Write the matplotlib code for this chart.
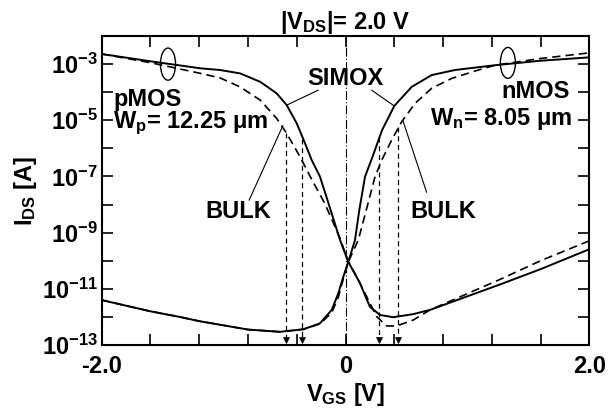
import matplotlib
matplotlib.use("Agg")
import matplotlib.pyplot as plt
from matplotlib.patches import Ellipse
from matplotlib.ticker import FixedLocator, FuncFormatter
import numpy as np

plt.rcParams['font.family'] = ['Liberation Sans', 'DejaVu Sans']
plt.rcParams['font.weight'] = 'bold'
plt.rcParams['mathtext.fontset'] = 'custom'
plt.rcParams['mathtext.rm'] = 'Liberation Sans:bold'
plt.rcParams['mathtext.it'] = 'Liberation Sans:bold'
plt.rcParams['mathtext.bf'] = 'Liberation Sans:bold'
plt.rcParams['axes.unicode_minus'] = False

# pMOS, SIMOX (solid) : V_GS [V] / log10(I_DS [A])
p_simox_v = [-2.0, -1.6, -1.19, -1.03, -0.865, -0.70, -0.565, -0.482, -0.40, -0.332, -0.277, -0.21, -0.14,
             -0.045, 0.023, 0.119, 0.20, 0.283, 0.392, 0.556, 0.693, 1.27, 1.6, 2.0]
p_simox_log = [-2.64, -2.90, -3.15, -3.21, -3.33, -3.63, -4.04, -4.46, -5.11, -5.82, -6.42, -7.0, -7.95,
               -9.26, -10.04, -10.80, -11.64, -11.93, -12.01, -11.90, -11.75, -10.84, -10.30, -9.59]

# pMOS, BULK (dashed)
p_bulk_v = [-2.0, -1.6, -1.19, -1.03, -0.865, -0.70, -0.565, -0.482, -0.373, -0.29, -0.17, -0.045, 0.023,
            0.092, 0.174, 0.256, 0.338, 0.42, 0.556, 0.693, 1.27, 1.6, 2.0]
p_bulk_log = [-2.64, -2.95, -3.33, -3.49, -3.81, -4.28, -4.93, -5.47, -6.30, -7.0, -7.96, -9.2, -10.04,
              -10.57, -11.28, -11.99, -12.32, -12.32, -12.11, -11.75, -10.66, -10.0, -9.29]

# nMOS, SIMOX (solid)
n_simox_v = [-2.0, -1.6, -1.36, -1.2, -0.8, -0.537, -0.346, -0.21, -0.113, -0.059, -0.018, 0.023, 0.078,
             0.113, 0.16, 0.23, 0.30, 0.40, 0.543, 0.707, 0.898, 1.226, 1.6, 2.0]
n_simox_log = [-11.40, -11.80, -12.00, -12.15, -12.45, -12.53, -12.44, -12.23, -11.75, -11.16, -10.57, -10.04, -9.26,
               -8.20, -7.01, -6.20, -5.35, -4.49, -3.81, -3.39, -3.21, -3.04, -2.88, -2.76]

# nMOS, BULK (dashed)
n_bulk_v = [-2.0, -1.6, -1.36, -1.2, -0.8, -0.537, -0.346, -0.21, -0.113, -0.059, -0.018, 0.023, 0.105,
            0.17, 0.242, 0.297, 0.379, 0.461, 0.57, 0.707, 0.871, 1.09, 1.226, 1.6, 2.0]
n_bulk_log = [-11.40, -11.80, -12.00, -12.15, -12.45, -12.53, -12.44, -12.25, -11.85, -11.30, -10.65, -10.04, -9.26,
              -8.20, -7.01, -6.42, -5.70, -5.05, -4.40, -3.86, -3.51, -3.21, -3.04, -2.80, -2.60]

# threshold voltages (arrows) and the current (log10) where each dashed drop line starts
vth = [-0.49, -0.355, 0.275, 0.433]
vth_start_log = [-5.47, -5.65, -5.60, -5.25]

fig = plt.figure(figsize=(6.1, 4.13), dpi=100)
ax = fig.add_axes([0.1667, 0.1646, 0.7994, 0.7482])

ax.plot(p_simox_v, 10 ** np.array(p_simox_log), 'k-', lw=1.4)
ax.plot(n_simox_v, 10 ** np.array(n_simox_log), 'k-', lw=1.4)
ax.plot(p_bulk_v, 10 ** np.array(p_bulk_log), 'k--', lw=1.2, dashes=(5, 3))
ax.plot(n_bulk_v, 10 ** np.array(n_bulk_log), 'k--', lw=1.2, dashes=(5, 3))

for v, s in zip(vth, vth_start_log):
    ax.plot([v, v], [10 ** s, 1.6e-13], 'k--', lw=0.9, dashes=(4, 3))
    ax.plot([v], [1.45e-13], marker='v', color='k', ms=5, markeredgewidth=0.5)

ax.axvline(0, color='k', lw=0.8, ls=(0, (8, 2, 1, 2)))

ax.set_yscale('log')
ax.set_xlim(-2.0, 2.0)
ax.set_ylim(1e-13, 1e-2)

ax.xaxis.set_major_locator(FixedLocator(np.arange(-2.0, 2.01, 0.4)))
ax.xaxis.set_major_formatter(FuncFormatter(
    lambda x, p: {-2.0: '-2.0', 0.0: '0', 2.0: '2.0'}.get(round(x, 1) + 0.0, '')))
ax.yaxis.set_major_locator(FixedLocator([10.0 ** k for k in range(-13, -1)]))
ax.yaxis.set_minor_locator(FixedLocator([]))
ax.yaxis.set_major_formatter(FuncFormatter(
    lambda y, p: r'$10^{%d}$' % round(np.log10(y)) if round(np.log10(y)) % 2 else ''))

ax.tick_params(which='both', direction='in', length=8, width=1.2, labelsize=17,
               top=True, right=True, pad=3)
ax.tick_params(axis='x', pad=7)
for s in ax.spines.values():
    s.set_linewidth(1.5)

ax.set_xlabel(r'V$_\mathrm{GS}$ [V]', fontsize=17, fontweight='bold', labelpad=2)
ax.set_ylabel(r'I$_\mathrm{DS}$ [A]', fontsize=17, fontweight='bold', labelpad=2)
ax.set_title(r'|V$_\mathrm{DS}$|= 2.0 V', fontsize=17, fontweight='bold', pad=4)

# labels
ax.text(0.0, 10 ** -3.5, 'SIMOX', ha='center', va='center', fontsize=17, fontweight='bold')
ax.plot([-0.225, -0.482], [10 ** -3.93, 10 ** -4.46], 'k-', lw=0.8)
ax.plot([0.215, 0.40], [10 ** -3.93, 10 ** -4.49], 'k-', lw=0.8)

ax.text(-0.88, 10 ** -8.23, 'BULK', ha='center', va='center', fontsize=17, fontweight='bold')
ax.plot([-0.79, -0.515], [10 ** -7.84, 10 ** -5.2], 'k-', lw=0.8)
ax.text(0.80, 10 ** -8.23, 'BULK', ha='center', va='center', fontsize=17, fontweight='bold')
ax.plot([0.665, 0.47], [10 ** -7.56, 10 ** -5.0], 'k-', lw=0.8)

ax.text(-1.907, 10 ** -4.49, 'pMOS', ha='left', va='baseline', fontsize=17, fontweight='bold')
ax.text(-1.907, 10 ** -5.28, r'W$_\mathrm{p}$= 12.25 μm', ha='left', va='baseline', fontsize=17, fontweight='bold')
ax.text(1.84, 10 ** -4.21, 'nMOS', ha='right', va='baseline', fontsize=17, fontweight='bold')
ax.text(1.857, 10 ** -5.17, r'W$_\mathrm{n}$= 8.05 μm', ha='right', va='baseline', fontsize=17, fontweight='bold')

# loops around the pairs of curves
ax.add_patch(Ellipse((0.136, 0.909), 0.031, 0.104, transform=ax.transAxes, fill=False, lw=1.0, color='k'))
ax.add_patch(Ellipse((0.833, 0.913), 0.031, 0.100, transform=ax.transAxes, fill=False, lw=1.0, color='k'))

fig.savefig('out.png', dpi=100)
